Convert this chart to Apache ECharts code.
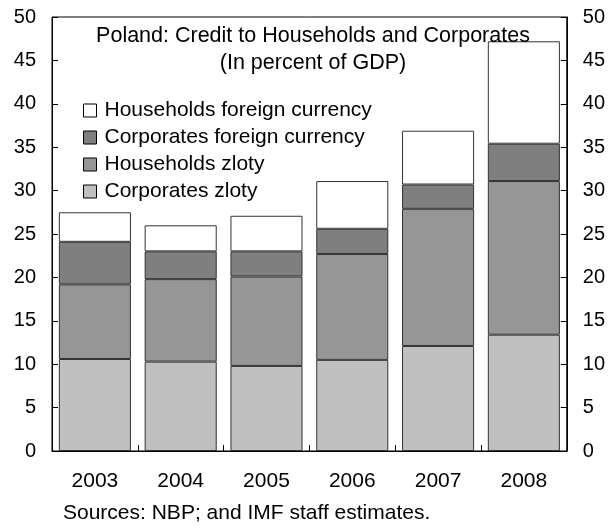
<!DOCTYPE html>
<html><head><meta charset="utf-8">
<script src="https://cdn.jsdelivr.net/npm/echarts@6/dist/echarts.min.js"></script>
<style>html,body{margin:0;padding:0;background:#fff}#c{width:608px;height:528px}</style>
</head><body><div id="c"></div>
<script>
var years = ['2003','2004','2005','2006','2007','2008'];
var corporatesZloty = [10.6, 10.3, 9.8, 10.5, 12.1, 13.4];
var householdsZloty = [8.6, 9.5, 10.3, 12.2, 15.8, 17.7];
var corporatesFX = [4.9, 3.2, 2.9, 2.9, 2.8, 4.3];
var householdsFX = [3.4, 3.0, 4.1, 5.5, 6.2, 11.8];
var yTicks = [0, 5, 10, 15, 20, 25, 30, 35, 40, 45, 50];

var FONT = 'Liberation Sans, Arial, sans-serif';
var chart = echarts.init(document.getElementById('c'));
function mk(name, data, color) {
  return {
    name: name, type: 'bar', stack: 'a', data: data,
    barCategoryGap: '16%',
    itemStyle: { color: color, borderColor: '#333', borderWidth: 1 }
  };
}
var yAxisCommon = {
  type: 'value', min: yTicks[0], max: yTicks[yTicks.length - 1], interval: 5,
  axisLine: { show: true, lineStyle: { color: '#000', width: 1 } },
  axisTick: { show: true, inside: true, length: 6, lineStyle: { color: '#000' } },
  axisLabel: { color: '#000', fontSize: 20, fontFamily: FONT, margin: 16 },
  splitLine: { show: false }
};
chart.setOption({
  animation: false,
  textStyle: { fontFamily: FONT },
  grid: { left: 52, right: 40, top: 17, bottom: 77, show: true, borderColor: '#000', borderWidth: 1, containLabel: false },
  title: [
    { text: 'Poland: Credit to Households and Corporates', left: 308, top: 20, textAlign: 'center',
      textStyle: { fontSize: 21.5, fontWeight: 'normal', color: '#000', fontFamily: FONT } },
    { text: '(In percent of GDP)', left: 308, top: 47, textAlign: 'center',
      textStyle: { fontSize: 21.5, fontWeight: 'normal', color: '#000', fontFamily: FONT } }
  ],
  graphic: [
    { type: 'text', left: 63, top: 503,
      style: { text: 'Sources: NBP; and IMF staff estimates.', fontSize: 21, fill: '#000', fontFamily: FONT } }
  ],
  legend: {
    orient: 'vertical', left: 78, top: 95, itemWidth: 13, itemHeight: 13, itemGap: 6,
    icon: 'rect',
    data: ['Households foreign currency', 'Corporates foreign currency', 'Households zloty', 'Corporates zloty'],
    itemStyle: { borderColor: '#000', borderWidth: 1 },
    textStyle: { fontSize: 21, color: '#000', fontFamily: FONT, padding: [0, 0, 0, 3] }
  },
  xAxis: {
    type: 'category', data: years,
    axisLine: { show: true, lineStyle: { color: '#000', width: 1 } },
    axisTick: { show: true, inside: true, length: 6, lineStyle: { color: '#000' } },
    axisLabel: { color: '#000', fontSize: 21, fontFamily: FONT, margin: 20 }
  },
  yAxis: [
    Object.assign({ position: 'left' }, yAxisCommon),
    Object.assign({ position: 'right' }, yAxisCommon)
  ],
  series: [
    mk('Corporates zloty', corporatesZloty, '#c0c0c0'),
    mk('Households zloty', householdsZloty, '#969696'),
    mk('Corporates foreign currency', corporatesFX, '#7f7f7f'),
    mk('Households foreign currency', householdsFX, '#ffffff')
  ]
});
</script></body></html>
